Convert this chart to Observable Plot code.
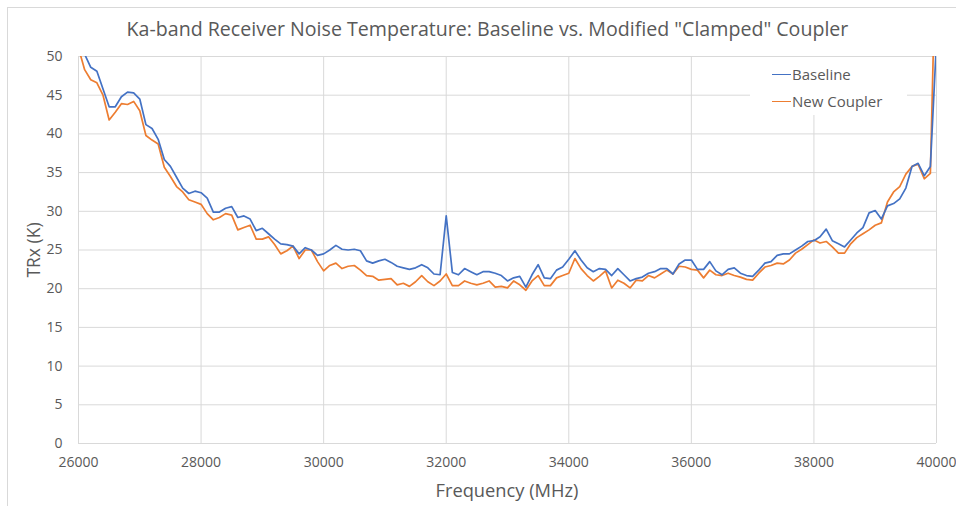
<!DOCTYPE html>
<html><head><meta charset="utf-8">
<script src="https://cdn.jsdelivr.net/npm/d3@7"></script>
<script src="https://cdn.jsdelivr.net/npm/@observablehq/plot@0.6"></script>
<style>
body{margin:0;background:#fff;overflow:hidden;}
#wrap{position:relative;width:956px;height:506px;font-family:"Open Sans",sans-serif;color:#595959;overflow:hidden;}
#wrap svg{position:absolute;left:0;top:0;}
#frame{position:absolute;left:7px;top:7px;width:990px;height:540px;border:1px solid #d9d9d9;}
#title{position:absolute;left:0;width:975px;top:16px;line-height:26px;text-align:center;font-size:19.6px;}
#ytitle{position:absolute;left:-17px;top:240px;width:100px;height:20px;line-height:20px;text-align:center;font-size:17.5px;transform:rotate(-90deg);}
#xtitle{position:absolute;left:307px;width:400px;top:478px;line-height:24px;text-align:center;font-size:18.3px;}
#legend{position:absolute;left:750px;top:57px;width:157px;height:58px;background:#fff;}
.item{position:absolute;left:22px;height:20px;line-height:20px;font-size:15px;white-space:nowrap;}
.item span.sw{display:inline-block;width:19px;height:0;border-top:1.6px solid;vertical-align:middle;margin-right:1px;position:relative;top:-1px;}
</style>
</head><body>
<div id="wrap">
  <div id="chart"></div>
  <div id="frame"></div>
  <div id="title"></div>
  <div id="ytitle"></div>
  <div id="xtitle"></div>
  <div id="legend"></div>
</div>
<script>
const titleText = 'Ka-band Receiver Noise Temperature: Baseline vs. Modified "Clamped" Coupler';
const xTitle = "Frequency (MHz)";
const yTitle = "TRx (K)";
const seriesNames = ["Baseline", "New Coupler"];
const seriesColors = ["#4472C4", "#ED7D31"];
const xTicks = [26000, 28000, 30000, 32000, 34000, 36000, 38000, 40000];
const yTicks = [0, 5, 10, 15, 20, 25, 30, 35, 40, 45, 50];

const freq = [
  26000,26100,26200,26300,26400,26500,26600,26700,26800,26900,
  27000,27100,27200,27300,27400,27500,27600,27700,27800,27900,
  28000,28100,28200,28300,28400,28500,28600,28700,28800,28900,
  29000,29100,29200,29300,29400,29500,29600,29700,29800,29900,
  30000,30100,30200,30300,30400,30500,30600,30700,30800,30900,
  31000,31100,31200,31300,31400,31500,31600,31700,31800,31900,
  32000,32100,32200,32300,32400,32500,32600,32700,32800,32900,
  33000,33100,33200,33300,33400,33500,33600,33700,33800,33900,
  34000,34100,34200,34300,34400,34500,34600,34700,34800,34900,
  35000,35100,35200,35300,35400,35500,35600,35700,35800,35900,
  36000,36100,36200,36300,36400,36500,36600,36700,36800,36900,
  37000,37100,37200,37300,37400,37500,37600,37700,37800,37900,
  38000,38100,38200,38300,38400,38500,38600,38700,38800,38900,
  39000,39100,39200,39300,39400,39500,39600,39700,39800,39900,
  40000
];

const baseline = [
  55.0,50.3,48.6,48.1,45.8,43.5,43.5,44.8,45.4,45.3,
  44.5,41.2,40.7,39.3,36.7,35.8,34.4,33.0,32.3,32.6,
  32.4,31.7,29.9,29.9,30.4,30.6,29.2,29.4,29.0,27.5,
  27.8,27.1,26.4,25.8,25.7,25.5,24.5,25.3,25.0,24.3,
  24.5,25.0,25.6,25.1,25.0,25.1,24.9,23.6,23.3,23.6,
  23.8,23.4,22.9,22.7,22.5,22.7,23.1,22.7,21.9,21.8,
  29.4,22.1,21.8,22.6,22.2,21.8,22.2,22.2,22.0,21.7,
  21.0,21.4,21.6,20.2,21.8,23.1,21.4,21.3,22.4,22.8,
  23.8,24.9,23.7,22.7,22.2,22.6,22.5,21.7,22.6,21.8,
  21.0,21.3,21.5,22.0,22.2,22.6,22.6,21.9,23.2,23.7,
  23.7,22.5,22.5,23.5,22.3,21.8,22.5,22.7,22.0,21.7,
  21.6,22.4,23.3,23.5,24.3,24.5,24.5,25.0,25.5,26.1,
  26.2,26.7,27.7,26.2,25.8,25.4,26.3,27.2,27.9,29.8,
  30.1,29.0,30.7,31.0,31.6,33.0,35.8,36.2,34.6,35.8,
  52.0
];

const newCoupler = [
  51.1,48.3,47.0,46.6,45.0,41.8,42.8,43.9,43.8,44.2,
  43.0,39.8,39.2,38.7,35.7,34.5,33.2,32.5,31.5,31.2,
  30.9,29.7,28.9,29.2,29.7,29.5,27.6,27.9,28.2,26.4,
  26.4,26.7,25.7,24.5,24.9,25.5,23.9,25.0,25.0,23.5,
  22.3,23.0,23.3,22.6,22.9,23.0,22.4,21.7,21.6,21.1,
  21.2,21.3,20.5,20.7,20.3,20.9,21.7,20.9,20.4,21.0,
  21.9,20.4,20.4,21.0,20.7,20.5,20.7,21.0,20.2,20.3,
  20.1,21.0,20.5,19.8,21.0,21.7,20.4,20.4,21.4,21.7,
  22.0,23.9,22.6,21.7,21.0,21.6,22.3,20.1,21.1,20.7,
  20.1,21.1,21.0,21.7,21.4,21.9,22.4,21.9,22.9,22.8,
  22.5,22.4,21.4,22.4,21.8,21.7,22.0,21.7,21.5,21.2,
  21.1,22.0,22.8,23.0,23.3,23.2,23.7,24.6,25.1,25.7,
  26.3,25.9,26.1,25.4,24.6,24.6,25.8,26.6,27.1,27.6,
  28.2,28.5,31.2,32.5,33.2,34.8,35.8,36.1,34.2,34.9,
  68.0
];

const chart = Plot.plot({
  width: 956, height: 506,
  marginLeft: 78, marginRight: 20, marginTop: 56, marginBottom: 63,
  style: {fontFamily: '"Open Sans", sans-serif', fontSize: "14px", color: "#595959", background: "transparent", overflow: "visible"},
  x: {type: "linear", domain: [26000, 40000], ticks: xTicks, tickFormat: d => String(d), tickSize: 0, tickPadding: 14, label: null},
  y: {type: "linear", domain: [0, 50], ticks: yTicks, tickFormat: d => String(d), tickSize: 0, tickPadding: 16, label: null},
  marks: [
    Plot.ruleY(yTicks, {stroke: "#d9d9d9", strokeWidth: 1}),
    Plot.ruleX(xTicks, {stroke: "#d9d9d9", strokeWidth: 1}),
    Plot.line(freq, {x: freq, y: newCoupler, stroke: seriesColors[1], strokeWidth: 1.7, clip: true}),
    Plot.line(freq, {x: freq, y: baseline, stroke: seriesColors[0], strokeWidth: 1.7, clip: true})
  ]
});
document.getElementById("chart").appendChild(chart);
document.getElementById("title").textContent = titleText;
document.getElementById("xtitle").textContent = xTitle;
document.getElementById("ytitle").textContent = yTitle;
const legend = document.getElementById("legend");
seriesNames.forEach((name, i) => {
  const it = document.createElement("div");
  it.className = "item";
  it.style.top = (7 + i * 27) + "px";
  const sw = document.createElement("span");
  sw.className = "sw";
  sw.style.borderTopColor = seriesColors[i];
  it.appendChild(sw);
  it.appendChild(document.createTextNode(name));
  legend.appendChild(it);
});
</script>
</body></html>
